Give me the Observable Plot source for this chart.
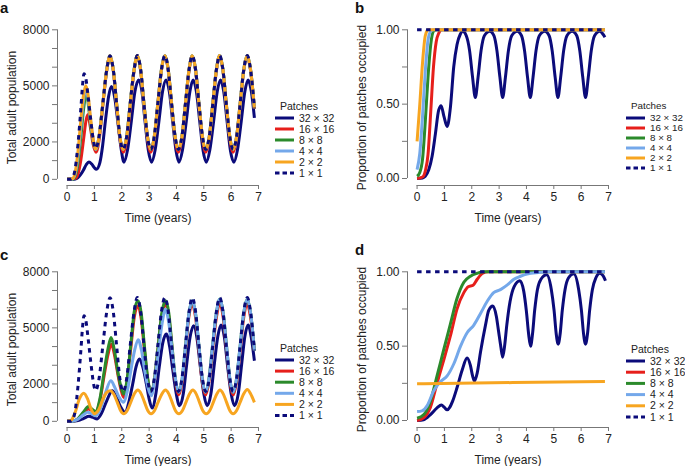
<!DOCTYPE html>
<html><head><meta charset="utf-8">
<script src="https://cdn.jsdelivr.net/npm/d3@7"></script>
<script src="https://cdn.jsdelivr.net/npm/@observablehq/plot@0.6"></script>
<style>
body{margin:0;background:#fff;}
#wrap{position:relative;width:685px;height:466px;overflow:hidden;background:#fff;font-family:"Liberation Sans",Arial,Helvetica,sans-serif;}
#wrap svg{position:absolute;}
</style></head><body><div id="wrap"></div>
<script>
// ---------- categories ----------
const patchNames = ["32 × 32","16 × 16","8 × 8","4 × 4","2 × 2","1 × 1"];
const patchColors = ["#0b0b7a","#e61f1b","#2b8a2b","#74a8ea","#f7a520","#0b0b7a"];
const panelLetters = ["a","b","c","d"];
const xTicks = [0,1,2,3,4,5,6,7];
const popTicks = [0,1000,2000,3000,4000,5000,6000,7000,8000];
const popLabels = [0,2000,5000,8000];
const propTicks = [0,0.25,0.5,0.75,1];
const propLabels = [0,0.5,1];

// ---------- panel a / c : total adult population ----------
const pop1Start = [[0,0],[0.1,0],[0.2,80],[0.3,600],[0.4,1900],[0.5,3700],[0.57,5100],[0.62,5650],[0.68,5450],[0.78,4300],[0.88,3000],[0.97,2000],[1.04,1650]];
const popConvTail = [[1.17,2290],[1.31,4075],[1.45,5860],[1.57,6610],[1.69,5860],[1.81,4075],[1.93,2290],[2.05,1600],[2.18,2290],[2.31,4075],[2.45,5860],[2.57,6620],[2.69,5860],[2.81,4075],[2.94,2290],[3.06,1600],[3.19,2290],[3.32,4075],[3.45,5860],[3.58,6620],[3.7,5860],[3.82,4075],[3.95,2290],[4.07,1600],[4.2,2290],[4.33,4075],[4.46,5860],[4.58,6610],[4.7,5860],[4.82,4075],[4.95,2290],[5.07,1600],[5.2,2290],[5.33,4075],[5.46,5860],[5.58,6620],[5.7,5860],[5.82,4075],[5.95,2290],[6.07,1600],[6.2,2290],[6.33,4075],[6.46,5860],[6.59,6620],[6.71,5860],[6.85,3800]];

const a32 = [[0,0],[0.2,0],[0.3,20],[0.4,90],[0.5,260],[0.6,500],[0.7,780],[0.8,930],[0.9,820],[1.0,620],[1.07,540],[1.2,900],[1.3,1800],[1.4,3100],[1.52,4450],[1.62,4970],[1.75,4300],[1.87,2900],[1.98,1600],[2.08,920],[2.21,1570],[2.35,3120],[2.48,4680],[2.62,5320],[2.74,4680],[2.85,3120],[2.97,1570],[3.09,920],[3.22,1570],[3.36,3120],[3.49,4680],[3.62,5320],[3.74,4680],[3.86,3120],[3.98,1570],[4.09,920],[4.22,1570],[4.36,3120],[4.49,4680],[4.61,5320],[4.73,4680],[4.85,3120],[4.97,1570],[5.09,920],[5.22,1570],[5.36,3120],[5.49,4680],[5.61,5320],[5.73,4680],[5.85,3120],[5.97,1570],[6.1,920],[6.23,1570],[6.37,3120],[6.5,4680],[6.62,5320],[6.74,4680],[6.85,3290]];
const a16 = [[0,0],[0.3,50],[0.4,300],[0.5,1000],[0.6,2100],[0.7,3200],[0.76,3450],[0.85,2800],[0.95,1900],[1.06,1450],[1.18,2200],[1.31,4000],[1.45,5810],[1.57,6560],[1.69,5810],[1.81,4000],[1.93,2200],[2.06,1450],[2.19,2200],[2.32,4000],[2.45,5810],[2.57,6560],[2.69,5810],[2.81,4000],[2.94,2200],[3.06,1450],[3.19,2200],[3.32,4000],[3.45,5810],[3.58,6560],[3.7,5810],[3.82,4000],[3.95,2200],[4.07,1450],[4.2,2200],[4.33,4000],[4.46,5810],[4.58,6560],[4.7,5810],[4.82,4000],[4.95,2200],[5.07,1450],[5.2,2200],[5.33,4000],[5.46,5810],[5.58,6560],[5.7,5810],[5.82,4000],[5.95,2200],[6.07,1450],[6.2,2200],[6.33,4000],[6.46,5810],[6.59,6560],[6.71,5810],[6.85,3770]];
const a8Start = [[0,0],[0.2,10],[0.3,200],[0.4,900],[0.5,2200],[0.6,3700],[0.71,4650],[0.8,3700],[0.9,2500],[1.0,1750],[1.05,1600]];
const a4Start = [[0,0],[0.2,20],[0.3,300],[0.4,1200],[0.5,2700],[0.6,4200],[0.69,4850],[0.77,4300],[0.87,3000],[0.97,2000],[1.05,1600]];
const a2Start = [[0,0],[0.2,40],[0.3,400],[0.4,1500],[0.5,3100],[0.6,4500],[0.68,5000],[0.76,4600],[0.85,3400],[0.95,2200],[1.05,1620]];

const c32 = [[0,0],[0.2,0],[0.4,40],[0.6,150],[0.8,270],[0.95,210],[1.1,130],[1.25,400],[1.45,1100],[1.65,1640],[1.8,1300],[1.95,800],[2.13,480],[2.27,1100],[2.4,2000],[2.52,2900],[2.65,3330],[2.77,2900],[2.9,2000],[3.0,1200],[3.11,710],[3.25,1500],[3.37,2900],[3.5,4200],[3.63,4670],[3.75,4000],[3.87,2700],[3.99,1500],[4.11,840],[4.25,1470],[4.37,3000],[4.5,4520],[4.63,5110],[4.75,4450],[4.87,2950],[5.0,1470],[5.12,840],[5.26,1470],[5.38,3000],[5.51,4520],[5.63,5150],[5.75,4520],[5.87,2950],[6.0,1470],[6.12,840],[6.26,1470],[6.38,3000],[6.5,4520],[6.62,5150],[6.74,4450],[6.85,3240]];
const c16 = [[0,0],[0.2,10],[0.4,130],[0.6,420],[0.78,660],[0.92,560],[1.04,480],[1.2,1100],[1.35,2400],[1.5,3600],[1.62,4130],[1.74,3500],[1.86,2500],[1.97,1700],[2.07,1280],[2.2,2200],[2.33,3900],[2.46,5600],[2.59,6180],[2.71,5500],[2.83,3800],[2.95,2200],[3.07,1460],[3.2,2200],[3.33,3900],[3.46,5600],[3.6,6270],[3.72,5600],[3.84,3850],[3.96,2150],[4.08,1410],[4.21,2150],[4.33,3850],[4.45,5550],[4.57,6270],[4.7,5550],[4.82,3850],[4.94,2150],[5.06,1410],[5.19,2150],[5.32,3850],[5.46,5550],[5.59,6270],[5.71,5550],[5.83,3850],[5.95,2150],[6.07,1410],[6.2,2150],[6.33,3850],[6.46,5550],[6.59,6270],[6.71,5550],[6.85,3780]];
const c8Start = [[0,0],[0.2,10],[0.4,150],[0.6,500],[0.78,800],[0.92,650],[1.04,530],[1.2,1200],[1.35,2600],[1.5,3900],[1.61,4490],[1.73,3800],[1.85,2700],[1.96,1900],[2.07,1460],[2.2,2300],[2.33,4100],[2.46,5900],[2.59,6450],[2.71,5800],[2.83,4000],[2.95,2300],[3.07,1550],[3.2,2300],[3.33,4000],[3.46,5750],[3.6,6450],[3.72,5800],[3.84,4000],[3.96,2300],[4.08,1550]];
const c4Start = [[0,0],[0.2,10],[0.4,120],[0.6,350],[0.76,480],[0.9,400],[1.04,300],[1.2,600],[1.4,1500],[1.6,2170],[1.75,1800],[1.9,1300],[2.07,1015],[2.2,1600],[2.33,2700],[2.47,3800],[2.6,4370],[2.72,3800],[2.84,2700],[2.96,1800],[3.08,1370],[3.21,2300],[3.34,3700],[3.47,5200],[3.6,6000],[3.72,5250],[3.84,3800],[3.96,2300],[4.09,1550]];
const cLateTail = [[4.21,2300],[4.33,4000],[4.45,5700],[4.57,6450],[4.7,5750],[4.82,4050],[4.94,2300],[5.06,1550],[5.19,2300],[5.32,4050],[5.46,5800],[5.59,6540],[5.71,5800],[5.83,4050],[5.95,2300],[6.07,1550],[6.2,2300],[6.33,4050],[6.46,5800],[6.59,6540],[6.71,5800],[6.85,3780]];
const c2 = [[0,0],[0.15,60],[0.3,500],[0.45,1200],[0.61,1500],[0.75,1200],[0.88,650],[1.0,400],[1.15,600],[1.3,1150],[1.45,1550],[1.58,1640],[1.71,1450],[1.84,1000],[1.96,560],[2.07,400],[2.2,580],[2.33,1030],[2.46,1470],[2.59,1670],[2.71,1470],[2.83,1030],[2.95,580],[3.07,400],[3.2,580],[3.33,1030],[3.47,1470],[3.6,1670],[3.72,1470],[3.84,1030],[3.96,580],[4.09,400],[4.22,580],[4.35,1030],[4.48,1470],[4.6,1670],[4.72,1470],[4.84,1030],[4.96,580],[5.09,400],[5.22,580],[5.35,1030],[5.48,1470],[5.59,1670],[5.71,1470],[5.83,1030],[5.95,580],[6.07,400],[6.2,580],[6.33,1030],[6.46,1470],[6.59,1700],[6.71,1470],[6.85,1015]];

// ---------- panel b / d : proportion of patches occupied ----------
const b32 = [[0,0],[0.2,0.004],[0.3,0.015],[0.43,0.06],[0.55,0.15],[0.67,0.3],[0.79,0.46],[0.88,0.49],[0.98,0.42],[1.1,0.35],[1.22,0.48],[1.34,0.75],[1.46,0.9],[1.58,0.97],[1.67,0.99],[1.8,0.96],[1.92,0.86],[2.03,0.68],[2.13,0.545],[2.23,0.68],[2.34,0.86],[2.46,0.96],[2.66,0.99],[2.81,0.96],[2.92,0.86],[3.03,0.68],[3.13,0.545],[3.23,0.68],[3.34,0.86],[3.46,0.96],[3.66,0.99],[3.82,0.96],[3.93,0.86],[4.04,0.68],[4.14,0.545],[4.24,0.68],[4.35,0.86],[4.47,0.96],[4.67,0.99],[4.83,0.96],[4.94,0.86],[5.05,0.68],[5.15,0.545],[5.25,0.68],[5.36,0.86],[5.48,0.96],[5.67,0.99],[5.84,0.96],[5.95,0.86],[6.06,0.68],[6.16,0.545],[6.26,0.68],[6.37,0.86],[6.49,0.96],[6.68,0.99],[6.8,0.97],[6.87,0.95]];
const b16 = [[0,0],[0.2,0.01],[0.3,0.05],[0.4,0.16],[0.5,0.45],[0.6,0.75],[0.7,0.92],[0.8,0.98],[0.9,1],[6.87,1]];
const b8 = [[0,0.015],[0.1,0.04],[0.2,0.13],[0.3,0.38],[0.4,0.68],[0.5,0.9],[0.6,0.99],[0.7,1],[6.87,1]];
const b4 = [[0,0.06],[0.1,0.17],[0.2,0.42],[0.3,0.72],[0.4,0.93],[0.5,0.99],[0.6,1],[6.87,1]];
const b2 = [[0,0.25],[0.1,0.5],[0.2,0.78],[0.3,0.96],[0.4,1],[6.87,1]];
const prop1 = [[0,1],[6.87,1]];

const d32 = [[0,0],[0.24,0.005],[0.49,0.04],[0.73,0.085],[0.89,0.105],[1.0,0.088],[1.1,0.072],[1.2,0.09],[1.3,0.13],[1.46,0.22],[1.65,0.34],[1.83,0.42],[1.95,0.37],[2.03,0.3],[2.1,0.266],[2.2,0.32],[2.32,0.46],[2.5,0.64],[2.62,0.74],[2.77,0.77],[2.9,0.7],[2.98,0.6],[3.06,0.5],[3.13,0.426],[3.2,0.5],[3.28,0.64],[3.4,0.8],[3.55,0.9],[3.76,0.94],[3.9,0.87],[4.0,0.73],[4.08,0.58],[4.15,0.5],[4.22,0.58],[4.3,0.74],[4.4,0.88],[4.53,0.95],[4.74,0.98],[4.91,0.88],[5.01,0.74],[5.09,0.58],[5.16,0.513],[5.23,0.58],[5.31,0.74],[5.41,0.88],[5.54,0.96],[5.73,0.987],[5.91,0.88],[6.01,0.74],[6.09,0.58],[6.16,0.513],[6.23,0.58],[6.31,0.74],[6.41,0.88],[6.54,0.96],[6.68,0.99],[6.8,0.975],[6.89,0.94]];
const d16 = [[0,0],[0.25,0.02],[0.49,0.09],[0.73,0.25],[0.98,0.41],[1.22,0.57],[1.46,0.75],[1.71,0.86],[1.87,0.9],[2.05,0.91],[2.2,0.95],[2.4,0.99],[2.6,1],[6.87,1]];
const d8 = [[0,0.015],[0.25,0.04],[0.49,0.13],[0.73,0.3],[0.98,0.48],[1.22,0.65],[1.46,0.82],[1.71,0.93],[1.95,0.97],[2.2,0.99],[2.44,1],[6.87,1]];
const d4 = [[0,0.06],[0.18,0.065],[0.37,0.1],[0.61,0.2],[0.85,0.26],[1.1,0.3],[1.34,0.38],[1.59,0.5],[1.83,0.59],[2.07,0.64],[2.32,0.72],[2.56,0.8],[2.8,0.86],[3.05,0.88],[3.29,0.91],[3.54,0.95],[3.78,0.97],[4.02,0.985],[4.45,0.995],[4.8,1],[6.87,1]];
const d2 = [[0,0.247],[3.5,0.255],[6.87,0.263]];

// ---------- assemble panels (draw order: 32, 16, 8, 4, 2, 1) ----------
const panels = [
  {letter: panelLetters[0], left: 0, top: 0, kind: "pop",
   series: [a32, a16, a8Start.concat(popConvTail), a4Start.concat(popConvTail), a2Start.concat(popConvTail), pop1Start.concat(popConvTail)],
   legend: {x: 275, y: 106, step: 11, font: 10.5}},
  {letter: panelLetters[1], left: 350, top: 0, kind: "prop",
   series: [b32, b16, b8, b4, b2, prop1],
   legend: {x: 626, y: 106, step: 10, font: 9.8}},
  {letter: panelLetters[2], left: 0, top: 242, kind: "pop",
   series: [c32, c16, c8Start.concat(cLateTail), c4Start.concat(cLateTail), c2, pop1Start.concat(popConvTail)],
   legend: {x: 275, y: 348, step: 11.1, font: 10.5}},
  {letter: panelLetters[3], left: 350, top: 242, kind: "prop",
   series: [d32, d16, d8, d4, d2, prop1],
   legend: {x: 626, y: 349, step: 11.2, font: 10.5}}
];

const FONT = '"Liberation Sans", Arial, Helvetica, sans-serif';
const wrap = document.getElementById("wrap");

function makePanel(p) {
  const isPop = p.kind === "pop";
  const yDomain = isPop ? [-330, 8000] : [-0.047, 1];
  const yTop = yDomain[1];
  const ticks = isPop ? popTicks : propTicks;
  const labels = isPop ? popLabels : propLabels;
  const fmt = isPop ? (d => String(d)) : (d => d.toFixed(2));
  const lineMarks = p.series.map((s, i) => Plot.line(s, {
    x: d => d[0], y: d => d[1],
    stroke: patchColors[i],
    strokeWidth: 3,
    strokeDasharray: i === 5 ? "4.5,4.5" : "none",
    strokeLinecap: "butt",
    curve: "monotone-x"
  }));
  const svg = Plot.plot({
    width: 262, height: 225,
    marginLeft: 57, marginRight: 4, marginTop: 29.3, marginBottom: 40,
    x: {domain: [-0.35, 7]},
    y: {domain: yDomain},
    style: {fontFamily: FONT, fontSize: "12px", color: "#222", background: "transparent", overflow: "visible"},
    marks: [
      Plot.ruleY([yDomain[0]], {x1: 0, x2: 7, stroke: "#777", strokeWidth: 1}),
      Plot.ruleX([-0.35], {y1: 0, y2: yTop, stroke: "#777", strokeWidth: 1}),
      Plot.axisX({ticks: xTicks, tickSize: 4, tickPadding: 3, stroke: "#777",
        label: "Time (years)", labelAnchor: "center", labelOffset: 36, labelArrow: "none"}),
      Plot.axisY({ticks: ticks, tickSize: 5, tickPadding: 3, stroke: "#777",
        tickFormat: d => labels.includes(d) ? fmt(d) : "",
        label: isPop ? "Total adult population" : "Proportion of patches occupied",
        labelAnchor: "center", labelOffset: 50, labelArrow: "none"}),
      ...lineMarks
    ]
  });
  svg.style.left = p.left + "px";
  svg.style.top = p.top + "px";
  wrap.appendChild(svg);
}
panels.forEach(makePanel);

// ---------- overlay: panel letters and legends ----------
const overlay = d3.select(wrap).append("svg")
  .attr("width", 685).attr("height", 466)
  .style("left", "0px").style("top", "0px")
  .style("font-family", FONT);

const letterPos = [[0, 12.7], [355, 12.7], [0, 260], [355, 254.5]];
panels.forEach((p, k) => {
  overlay.append("text").attr("x", letterPos[k][0]).attr("y", letterPos[k][1])
    .attr("font-weight", "bold").attr("font-size", 15).attr("fill", "#111").text(p.letter);
  const L = p.legend;
  const g = overlay.append("g");
  g.append("text").attr("x", L.x + 5).attr("y", L.y).attr("dy", "0.35em")
    .attr("font-size", L.font).attr("fill", "#222").text("Patches");
  patchNames.forEach((name, i) => {
    const cy = L.y + 12 + i * L.step;
    g.append("line").attr("x1", L.x).attr("x2", L.x + 19).attr("y1", cy).attr("y2", cy)
      .attr("stroke", patchColors[i]).attr("stroke-width", 3)
      .attr("stroke-dasharray", i === 5 ? "4.5,3" : null);
    g.append("text").attr("x", L.x + 24).attr("y", cy).attr("dy", "0.35em")
      .attr("font-size", L.font).attr("fill", "#222").text(name);
  });
});
</script></body></html>
